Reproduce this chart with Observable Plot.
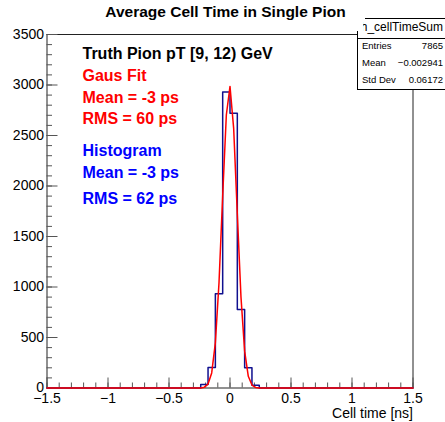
<!DOCTYPE html>
<html><head><meta charset="utf-8">
<script src="https://cdn.jsdelivr.net/npm/d3@7"></script>
<script src="https://cdn.jsdelivr.net/npm/@observablehq/plot@0.6"></script>
<style>
body{margin:0;background:#fff;}
#wrap{position:relative;width:445px;height:422px;overflow:hidden;font-family:"Liberation Sans",Arial,sans-serif;}
#wrap svg{position:absolute;left:0;top:0;}
.st{position:absolute;}
#stTop{left:365px;top:18px;width:85px;border-top:1px solid #000;height:0;}
#stBox{left:357px;top:31px;width:95px;height:58px;border-left:1px solid #000;border-bottom:1px solid #000;background:#fff;}
#stTitle{left:363px;top:20px;width:82px;height:15px;overflow:hidden;}
#stTitle span{position:absolute;right:2px;top:0;font-size:12px;white-space:nowrap;line-height:15px;}
#stSep{left:357px;top:38px;width:95px;border-top:1px solid #000;height:0;}
.row{position:absolute;left:362px;width:81px;font-size:9.5px;line-height:12px;display:flex;justify-content:space-between;}
</style></head><body><div id="wrap"></div>
<script>
// ---- data ----
const xRange = [-1.5, 1.5];
const yRange = [0, 3500];
// 50 bins of the histogram h_cellTimeSum
const binCounts = [
  0,0,0,0,0,0,0,0,0,0,
  0,0,0,0,0,0,0,0,0,0,
  0,35,202,934,2930,2720,776,200,28,0,
  0,0,0,0,0,0,0,0,0,0,
  0,0,0,0,0,0,0,0,0,0
];
// Gaussian fit curve as drawn (sampled points)
const fitX = [-1.5,-0.27,-0.24,-0.21,-0.18,-0.15,-0.12,-0.09,-0.06,-0.03,0,0.03,0.06,0.09,0.12,0.15,0.18,0.21,0.24,0.27,1.5];
const fitY = [0,0,1,8,39,149,446,1045,1904,2703,2986,2571,1723,900,365,116,29,5,1,0,0];
const xMajorTicks = [-1.5,-1,-0.5,0,0.5,1,1.5];
const yMajorTicks = [0,500,1000,1500,2000,2500,3000,3500];
const title = "Average Cell Time in Single Pion";
const xLabel = "Cell time [ns]";
const legendLines = [
  {text:"Truth Pion pT [9, 12) GeV", color:"black"},
  {text:"Gaus Fit", color:"red"},
  {text:"Mean = -3 ps", color:"red"},
  {text:"RMS = 60 ps", color:"red"},
  {text:"Histogram", color:"blue"},
  {text:"Mean = -3 ps", color:"blue"},
  {text:"RMS = 62 ps", color:"blue"}
];
const statsName = "h_cellTimeSum";
const statsLabels = ["Entries","Mean","Std Dev"];
const statsValues = ["7865","\u22120.002941","0.06172"];

// ---- build ----
const binWidth = (xRange[1]-xRange[0])/binCounts.length;
const histPts = binCounts.map((c,i)=>({x:xRange[0]+i*binWidth, y:c}));
histPts.push({x:xRange[1], y:binCounts[binCounts.length-1]});
const fitPts = fitX.map((x,i)=>({x, y:fitY[i]}));
const fmt = d => String(d).replace("-", "\u2212");
const legendDy = [19, 41, 63.5, 84.5, 116, 138, 164];

const marks = [
  Plot.frame({stroke:"#222"}),
  Plot.axisY(d3.range(yRange[0], yRange[1]+1, 100), {tickSize:-5.5, text:null, stroke:"#555"}),
  Plot.axisY(yMajorTicks, {tickSize:-11, text:null, stroke:"#555"}),
  Plot.axisY(yMajorTicks, {tickSize:0, tickPadding:3, tickFormat:fmt, fontSize:14, fill:"#000"}),
  Plot.axisX(d3.range(-15, 16, 1).map(d=>d/10), {tickSize:-5, text:null, stroke:"#555"}),
  Plot.axisX(xMajorTicks, {tickSize:-10, text:null, stroke:"#555"}),
  Plot.axisX(xMajorTicks, {tickSize:0, tickPadding:5, tickFormat:fmt, fontSize:14, fill:"#000"}),
  Plot.line(histPts, {x:"x", y:"y", curve:"step-after", stroke:"#10108f", strokeWidth:1.5}),
  Plot.line(fitPts, {x:"x", y:"y", stroke:"#ff0000", strokeWidth:1.5}),
  Plot.text([title], {frameAnchor:"top", dx:-4.5, dy:-22, fontSize:15.5, fontWeight:"bold", fill:"#000", lineAnchor:"middle"}),
  Plot.text([xLabel], {frameAnchor:"bottom-right", dy:26, textAnchor:"end", fontSize:14, fill:"#000", lineAnchor:"middle"}),
  ...legendLines.map((l,i)=>Plot.text([l.text], {frameAnchor:"top-left", dx:35.5, dy:legendDy[i], textAnchor:"start", lineAnchor:"middle", fontSize:16, fontWeight:"bold", fill:l.color}))
];

const svg = Plot.plot({
  width:445, height:422,
  marginLeft:46.5, marginRight:32.5, marginTop:34, marginBottom:34.5,
  x:{domain:xRange, label:null},
  y:{domain:yRange, label:null},
  style:{fontFamily:"Liberation Sans, Arial, sans-serif", fontSize:"14px", background:"white", overflow:"visible"},
  marks
});
const wrap = document.getElementById("wrap");
wrap.appendChild(svg);

function div(id, cls, html){ const d=document.createElement("div"); if(id) d.id=id; d.className=cls; if(html) d.innerHTML=html; wrap.appendChild(d); return d; }
div("stBox","st");
div("stTop","st");
div("stSep","st");
const t = div("stTitle","st"); const sp=document.createElement("span"); sp.textContent=statsName; t.appendChild(sp);
const rowTops = [40, 57, 74];
statsLabels.forEach((lab,i)=>{
  const r = div(null,"row");
  r.style.top = rowTops[i]+"px";
  const a=document.createElement("span"); a.textContent=lab;
  const b=document.createElement("span"); b.textContent=statsValues[i];
  r.appendChild(a); r.appendChild(b);
});
</script></body></html>
